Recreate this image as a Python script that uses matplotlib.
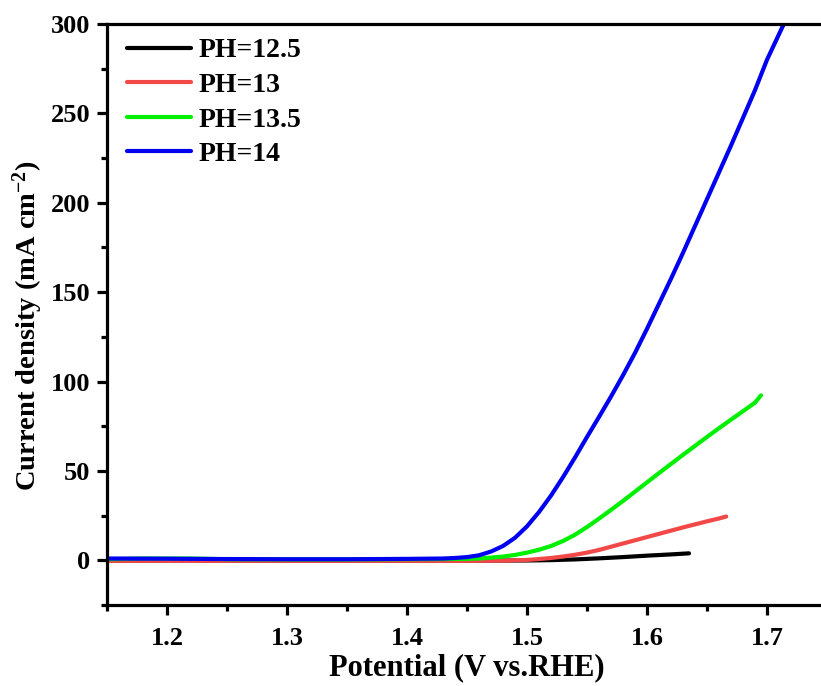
import matplotlib
matplotlib.use("Agg")
import matplotlib.pyplot as plt
from matplotlib.ticker import MultipleLocator

plt.rcParams['font.family'] = ['Liberation Serif', 'DejaVu Serif']
plt.rcParams['font.weight'] = 'bold'
plt.rcParams['mathtext.fontset'] = 'custom'
plt.rcParams['mathtext.rm'] = 'Liberation Serif:bold'
plt.rcParams['mathtext.default'] = 'rm'

# LSV curves, potential (V vs. RHE) vs current density (mA cm^-2)
x_ph125 = [1.15, 1.20, 1.25, 1.30, 1.35, 1.40, 1.45, 1.50, 1.52, 1.54, 1.56,
           1.58, 1.60, 1.62, 1.635]
y_ph125 = [-0.2, -0.2, -0.2, -0.2, -0.2, -0.2, -0.2, -0.1, 0.1, 0.5, 1.1,
           1.8, 2.6, 3.3, 3.9]

x_ph13 = [1.15, 1.20, 1.25, 1.30, 1.35, 1.40, 1.45, 1.48, 1.49, 1.50, 1.51,
          1.52, 1.53, 1.54, 1.55, 1.56, 1.57, 1.58, 1.59, 1.60, 1.61, 1.62,
          1.63, 1.64, 1.65, 1.66, 1.666]
y_ph13 = [-0.3, -0.3, -0.3, -0.3, -0.3, -0.3, -0.3, -0.2, 0.0, 0.2, 0.7,
          1.3, 2.1, 3.1, 4.3, 5.8, 7.6, 9.4, 11.2, 13.0, 14.8, 16.6,
          18.4, 20.1, 21.8, 23.4, 24.5]

x_ph135 = [1.15, 1.18, 1.22, 1.25, 1.30, 1.35, 1.40, 1.45, 1.46, 1.47, 1.48,
           1.49, 1.50, 1.51, 1.52, 1.53, 1.54, 1.55, 1.56, 1.57, 1.58, 1.59,
           1.60, 1.61, 1.62, 1.63, 1.64, 1.65, 1.66, 1.67, 1.68, 1.69, 1.695]
y_ph135 = [0.6, 1.0, 1.0, 0.6, 0.5, 0.5, 0.6, 0.8, 1.0, 1.5, 2.1,
           3.0, 4.3, 5.9, 8.0, 10.8, 14.3, 18.6, 23.3, 28.2, 33.2, 38.4,
           43.6, 48.8, 53.9, 59.0, 64.0, 69.0, 73.9, 78.7, 83.4, 88.2, 92.3]

x_ph14 = [1.15, 1.20, 1.25, 1.30, 1.35, 1.40, 1.43, 1.44, 1.45, 1.46, 1.47,
          1.48, 1.49, 1.50, 1.51, 1.52, 1.53, 1.54, 1.55, 1.56, 1.57, 1.58,
          1.59, 1.60, 1.61, 1.62, 1.63, 1.64, 1.65, 1.66, 1.67, 1.68, 1.69,
          1.70, 1.714]
y_ph14 = [1.0, 0.9, 0.7, 0.6, 0.6, 0.8, 1.0, 1.3, 1.8, 2.8, 4.9,
          8.0, 12.6, 19.0, 27.0, 36.2, 46.5, 57.5, 69.0, 80.2, 91.6, 103.5,
          116.0, 129.5, 143.5, 157.5, 172.0, 187.0, 202.0, 217.0, 232.0, 247.5, 263.0,
          280.0, 300.0]

labels = ['PH=12.5', 'PH=13', 'PH=13.5', 'PH=14']
colors = ['#000000', '#F24848', '#00F000', '#0000F0']

fig = plt.figure(figsize=(8.21, 6.86), dpi=100)
ax = fig.add_axes([107 / 821, 81 / 686, 720 / 821, 581 / 686])

series = [(x_ph125, y_ph125), (x_ph13, y_ph13), (x_ph135, y_ph135), (x_ph14, y_ph14)]
for (xs, ys), lab, col in zip(series, labels, colors):
    ax.plot(xs, ys, color=col, lw=3.0, label=lab, solid_capstyle='round',
            solid_joinstyle='round')

ax.set_xlim(1.15, 1.75)
ax.set_ylim(-25, 300)
ax.xaxis.set_major_locator(MultipleLocator(0.1))
ax.xaxis.set_minor_locator(MultipleLocator(0.05))
ax.yaxis.set_major_locator(MultipleLocator(50))
ax.yaxis.set_minor_locator(MultipleLocator(25))

for sp in ax.spines.values():
    sp.set_linewidth(2.3)
ax.tick_params(which='major', direction='out', length=7, width=2.3, labelsize=19, pad=5)
ax.tick_params(axis='x', which='major', pad=9)
ax.tick_params(which='minor', direction='out', length=4, width=2.3)
for t in ax.get_xticklabels() + ax.get_yticklabels():
    t.set_fontweight('bold')

ax.set_xlabel('Potential (V vs.RHE)', fontsize=22, fontweight='bold', labelpad=2)
ax.set_ylabel(r'Current density (mA cm$^{-2}$)', fontsize=20.5, fontweight='bold')
ax.yaxis.set_label_coords(-0.086, 0.48)

leg = ax.legend(loc='upper left', frameon=False, fontsize=20, handlelength=2.3,
                handletextpad=0.3, labelspacing=0.33, borderaxespad=0.1,
                bbox_to_anchor=(0.008, 1.0))
for t in leg.get_texts():
    t.set_fontweight('bold')

fig.savefig('out.png', dpi=100)
